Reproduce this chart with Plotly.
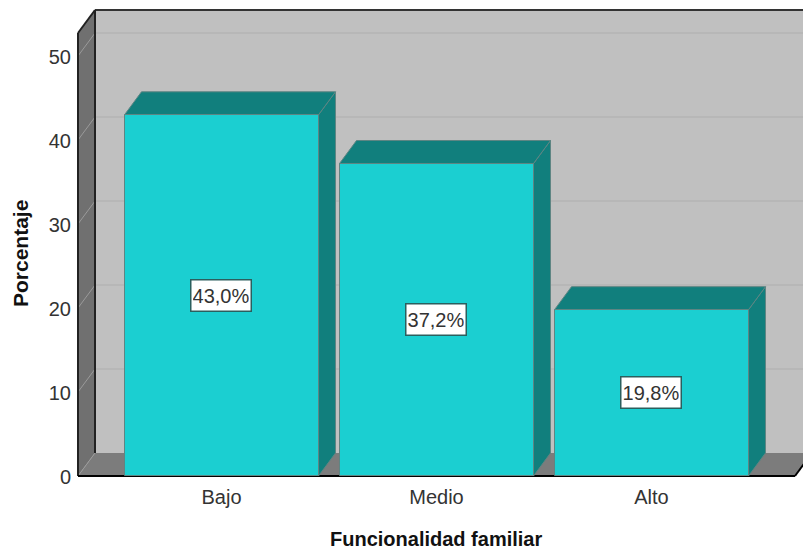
import plotly.graph_objects as go

categories = ["Bajo", "Medio", "Alto"]
percentages = [43.0, 37.2, 19.8]
value_labels = ["43,0%", "37,2%", "19,8%"]
y_ticks = [0, 10, 20, 30, 40, 50]

# Scale of the drawing, in pixels
W, H = 803, 549
PX_PER_UNIT = 8.4
PX_PER_CAT = 215.0
Y0_PX, CAT0_PX = 476.0, 221.5
DEPTH_X, DEPTH_Y = 17.0, 23.0
BAR_W = 194.0 / PX_PER_CAT
ML, MT, MB = 72, 5, 68
dx = DEPTH_X / PX_PER_CAT
dy = DEPTH_Y / PX_PER_UNIT

x_range = [(ML - CAT0_PX) / PX_PER_CAT, (W - CAT0_PX) / PX_PER_CAT]
y_range = [(Y0_PX - (H - MB)) / PX_PER_UNIT, (Y0_PX - MT) / PX_PER_UNIT]
X_L = (78 - CAT0_PX) / PX_PER_CAT
X_R = (795 - CAT0_PX) / PX_PER_CAT
Y_T = (Y0_PX - 33) / PX_PER_UNIT

WALL, LEFT, FLOOR = "#C0C0C0", "#707070", "#7C7C7C"
GRID, DIAG, EDGE = "#B4B4B4", "#9A9A9A", "#222222"
FRONT, SHADE, BAR_EDGE = "#1BCFD1", "#117F7D", "#5E8583"
TEXT = "#333333"


def poly(points, fill, line=None, width=1):
    path = "M" + " L".join(f"{x},{y}" for x, y in points) + " Z"
    return dict(type="path", path=path, fillcolor=fill, layer="below",
                line=dict(color=line or fill, width=width if line else 0))


def seg(x0, y0, x1, y1, color, width=1):
    return dict(type="line", x0=x0, y0=y0, x1=x1, y1=y1, layer="below",
                line=dict(color=color, width=width))


shapes = [
    poly([(X_L + dx, dy), (X_R + dx, dy), (X_R + dx, Y_T + dy), (X_L + dx, Y_T + dy)], WALL),
    poly([(X_L, 0), (X_L + dx, dy), (X_L + dx, Y_T + dy), (X_L, Y_T)], LEFT),
    poly([(X_L, 0), (X_L + dx, dy), (X_R + dx, dy), (X_R, 0)], FLOOR),
]
for t in y_ticks[1:]:
    shapes.append(seg(X_L + dx, t + dy, X_R + dx, t + dy, GRID, 1.5))
    shapes.append(seg(X_L, t, X_L + dx, t + dy, DIAG, 1))
shapes += [
    seg(X_L, 0, X_L + dx, dy, DIAG, 1),
    seg(X_L + dx, Y_T + dy, X_R + dx, Y_T + dy, "#333333", 2),
    seg(X_L, Y_T, X_L + dx, Y_T + dy, EDGE, 2),
    seg(X_L + dx, dy, X_L + dx, Y_T + dy, EDGE, 2),
    seg(X_L, 0, X_L, Y_T, EDGE, 2),
    seg(X_L, 0, X_R, 0, "#000000", 2),
    seg(X_R, 0, X_R + dx, dy, "#000000", 2),
]
half = BAR_W / 2
for i, v in enumerate(percentages):
    shapes.append(poly([(i + half, 0), (i + half + dx, dy), (i + half + dx, v + dy), (i + half, v)],
                       SHADE, BAR_EDGE, 1))
    shapes.append(poly([(i - half, v), (i - half + dx, v + dy), (i + half + dx, v + dy), (i + half, v)],
                       SHADE, BAR_EDGE, 1))

fig = go.Figure(go.Bar(
    x=list(range(len(categories))), y=percentages, width=BAR_W,
    marker=dict(color=FRONT, line=dict(color=BAR_EDGE, width=1)),
    hoverinfo="skip",
))

annotations = [
    dict(x=i, y=v / 2, xref="x", yref="y", text=lab, showarrow=False,
         width=56, height=27, xshift=-1,
         font=dict(family="Liberation Sans", size=20, color=TEXT),
         bgcolor="#FFFFFF", bordercolor="#2B5F5E", borderwidth=1.5, borderpad=1.5)
    for i, (v, lab) in enumerate(zip(percentages, value_labels))
]
pw, ph = W - ML, H - MT - MB
annotations += [
    dict(x=(435.5 - ML) / pw, y=1 - (539 - MT) / ph, xref="paper", yref="paper",
         xanchor="center", yanchor="middle", text="<b>Funcionalidad familiar</b>",
         showarrow=False, font=dict(family="Liberation Sans", size=20, color="#111111")),
    dict(x=(20 - ML) / pw, y=1 - (254 - MT) / ph, xref="paper", yref="paper",
         xanchor="center", yanchor="middle", textangle=-90, text="<b>Porcentaje</b>",
         showarrow=False, font=dict(family="Liberation Sans", size=21, color="#111111")),
]

fig.update_layout(
    width=W, height=H, showlegend=False, bargap=0,
    paper_bgcolor="#FFFFFF", plot_bgcolor="#FFFFFF",
    margin=dict(l=ML, r=0, t=MT, b=MB, pad=0),
    font=dict(family="Liberation Sans", size=20, color=TEXT),
    shapes=shapes, annotations=annotations,
    xaxis=dict(range=x_range, tickmode="array", tickvals=list(range(len(categories))),
               ticktext=categories, showgrid=False, zeroline=False, showline=False,
               ticks="", automargin=False, ticklabelstandoff=2),
    yaxis=dict(range=y_range, tickmode="array", tickvals=y_ticks, ticklabelshift=1,
               showgrid=False, zeroline=False, showline=False, ticks="", automargin=False),
)

fig.write_html("out.html", config={"displayModeBar": False},
               post_script="document.body.style.margin='0';")
